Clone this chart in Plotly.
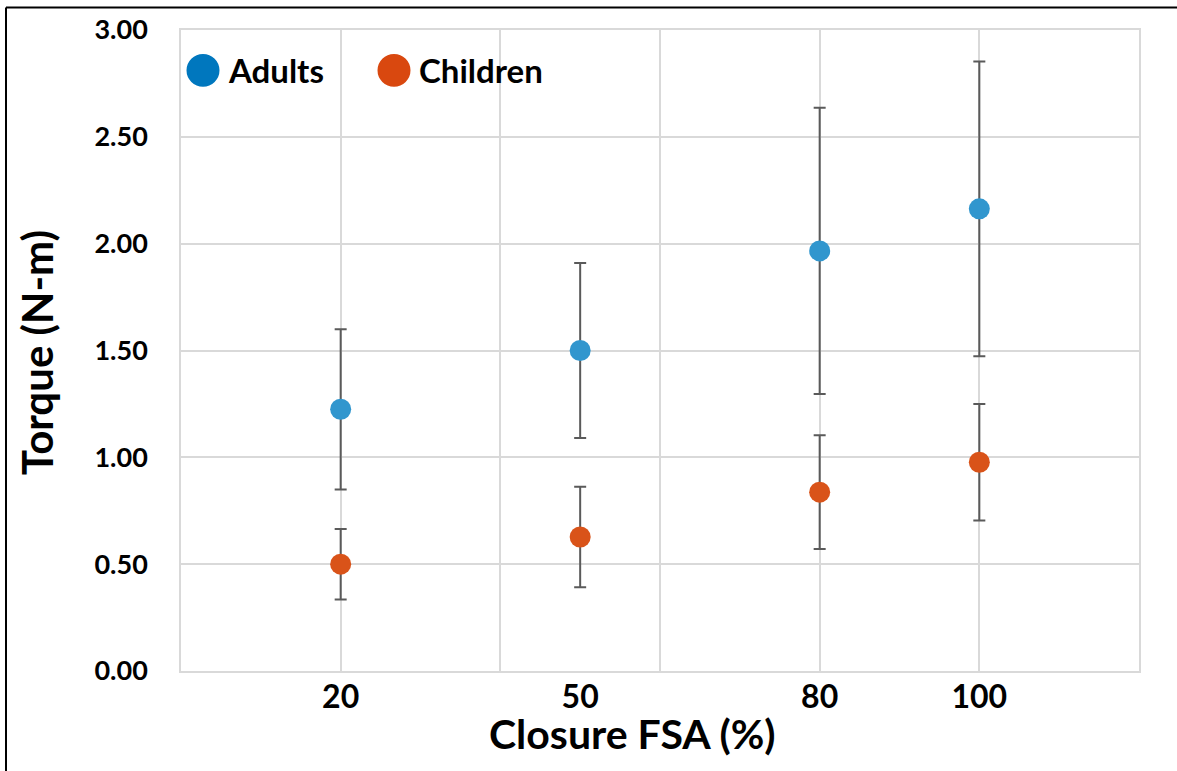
import plotly.graph_objects as go

closure = [20, 50, 80, 100]
adults_mean = [1.225, 1.50, 1.966, 2.163]
adults_err = [0.375, 0.41, 0.67, 0.69]
children_mean = [0.50, 0.627, 0.837, 0.977]
children_err = [0.165, 0.235, 0.266, 0.273]
x_tick_labels = ["20", "50", "80", "100"]
series_names = ["Adults", "Children"]

FONT = "Lato"
GRID = "#D9D9D9"

fig = go.Figure()
for name, ys, es, col in [
    (series_names[0], adults_mean, adults_err, "#3196CE"),
    (series_names[1], children_mean, children_err, "#D95319"),
]:
    fig.add_trace(go.Scatter(
        x=closure, y=ys, mode="markers", name=name,
        marker=dict(size=21, color=col),
        error_y=dict(type="data", array=es, visible=True,
                     color="#5A5A5A", thickness=2, width=6),
        showlegend=False,
    ))

# invisible trace on overlay axis so it carries the tick labels
fig.add_trace(go.Scatter(x=closure, y=adults_mean, xaxis="x2", mode="markers",
                         marker=dict(opacity=0), hoverinfo="skip", showlegend=False))

fig.update_layout(
    width=1177, height=771,
    margin=dict(l=181, r=38, t=28, b=100),
    paper_bgcolor="white", plot_bgcolor="white",
    font=dict(family=FONT, color="black"),
    xaxis=dict(range=[0, 120], dtick=20, tick0=0, showgrid=True, gridcolor=GRID,
               gridwidth=1.5, showticklabels=False, zeroline=False,
               showline=True, linecolor=GRID, linewidth=1.5, mirror=True),
    xaxis2=dict(range=[0, 120], overlaying="x", anchor="y", side="bottom",
                tickmode="array", tickvals=closure, ticktext=x_tick_labels,
                showgrid=False, zeroline=False, showline=False,
                tickfont=dict(size=32, family=FONT, color="black", weight="bold"),
                ticklabelstandoff=4),
    yaxis=dict(range=[0, 3], dtick=0.5, tickformat=".2f", showgrid=True,
               gridcolor=GRID, gridwidth=1.5, zeroline=False,
               showline=True, linecolor=GRID, linewidth=1.5, mirror=True,
               tickfont=dict(size=27, family=FONT, color="black", weight="bold"),
               ticklabelstandoff=26),
    annotations=[
        dict(text="Closure FSA (%)", xref="paper", yref="paper",
             x=(632 - 181) / 958, y=(671 - 734) / 643, xanchor="center", yanchor="middle",
             showarrow=False, font=dict(size=41, family=FONT, color="black", weight="bold")),
        dict(text="Torque (N-m)", xref="paper", yref="paper",
             x=(37 - 181) / 958, y=(671 - 352) / 643, xanchor="center", yanchor="middle",
             textangle=-90, showarrow=False,
             font=dict(size=42, family=FONT, color="black", weight="bold")),
        dict(text=series_names[0], xref="paper", yref="paper",
             x=(226 - 181) / 958, y=(671 - 68) / 643, xanchor="left", yanchor="middle",
             showarrow=False, font=dict(size=33, family=FONT, color="black", weight="bold")),
        dict(text=series_names[1], xref="paper", yref="paper",
             x=(417 - 181) / 958, y=(671 - 68) / 643, xanchor="left", yanchor="middle",
             showarrow=False, font=dict(size=33, family=FONT, color="black", weight="bold")),
    ],
    shapes=[
        dict(type="circle", xref="paper", yref="paper",
             x0=(186.5 - 181) / 958, x1=(219.5 - 181) / 958,
             y0=(671 - 85) / 643, y1=(671 - 52) / 643,
             fillcolor="#0077BE", line=dict(width=0)),
        dict(type="circle", xref="paper", yref="paper",
             x0=(377.5 - 181) / 958, x1=(410.5 - 181) / 958,
             y0=(671 - 85) / 643, y1=(671 - 52) / 643,
             fillcolor="#D9480F", line=dict(width=0)),
        dict(type="line", xref="paper", yref="paper",
             x0=(6 - 181) / 958, x1=(1200 - 181) / 958,
             y0=(671 - 5.5) / 643, y1=(671 - 5.5) / 643,
             line=dict(color="black", width=2)),
        dict(type="line", xref="paper", yref="paper",
             x0=(6 - 181) / 958, x1=(6 - 181) / 958,
             y0=(671 - 5.5) / 643, y1=(671 - 800) / 643,
             line=dict(color="black", width=2)),
    ],
)

fig.write_html("out.html", config={"displayModeBar": False},
               post_script="document.body.style.margin='0';document.body.style.overflow='hidden';")
